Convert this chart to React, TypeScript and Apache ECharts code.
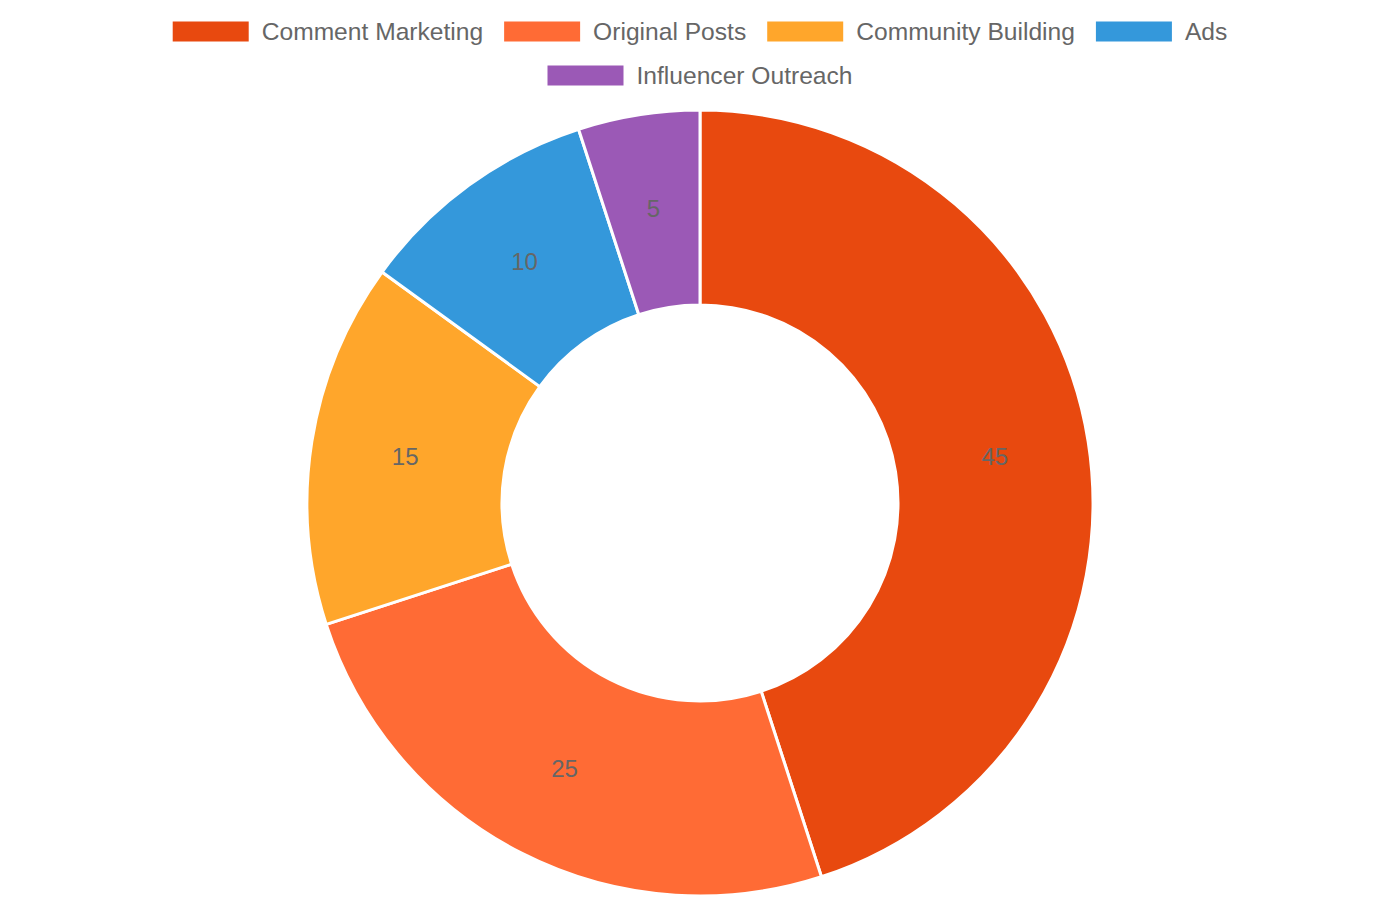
import React, { useEffect, useRef } from 'react';
import * as echarts from 'echarts';

const categories = ['Comment Marketing', 'Original Posts', 'Community Building', 'Ads', 'Influencer Outreach'];
const values = [45, 25, 15, 10, 5];
const colors = ['#E8490F', '#FF6B35', '#FFA62B', '#3498DB', '#9B59B6'];

// legend rows as they wrap in the reference
const legendRow1 = categories.slice(0, 4);
const legendRow2 = categories.slice(4);

const App: React.FC = () => {
  const chartRef = useRef<HTMLDivElement>(null);

  useEffect(() => {
    if (!chartRef.current) return;
    document.body.style.margin = '0';
    const chart = echarts.init(chartRef.current, undefined, { renderer: 'svg' });

    const legendBase = {
      left: 'center',
      itemWidth: 76,
      itemHeight: 20,
      itemGap: 21,
      icon: 'rect',
      itemStyle: { borderWidth: 0 },
      textStyle: {
        fontFamily: 'Liberation Sans, Arial, sans-serif',
        fontSize: 24.6,
        color: '#666666',
        padding: [0, 0, 0, 8]
      }
    };

    const option: echarts.EChartsOption = {
      animation: false,
      backgroundColor: '#ffffff',
      color: colors,
      legend: [
        { ...legendBase, top: 14, data: legendRow1 },
        { ...legendBase, top: 58, data: legendRow2 }
      ],
      series: [
        {
          name: 'Share',
          type: 'pie',
          center: [700, 503],
          radius: [198, 393],
          startAngle: 90,
          clockwise: true,
          itemStyle: {
            borderColor: '#ffffff',
            borderWidth: 3
          },
          label: {
            show: true,
            position: 'inside',
            formatter: '{c}',
            fontFamily: 'Liberation Sans, Arial, sans-serif',
            fontSize: 24,
            color: '#666666'
          },
          labelLine: { show: false },
          emphasis: { disabled: true },
          data: categories.map((name, i) => ({ name, value: values[i] }))
        }
      ]
    };

    chart.setOption(option);

    return () => {
      chart.dispose();
    };
  }, []);

  return <div ref={chartRef} style={{ width: '1400px', height: '900px' }} />;
};

export default App;
